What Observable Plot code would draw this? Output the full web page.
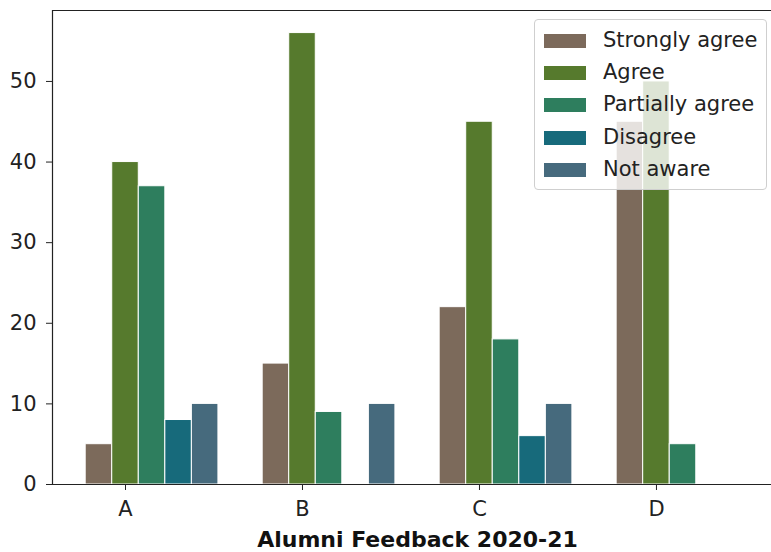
<!DOCTYPE html>
<html>
<head>
<meta charset="utf-8">
<script src="https://cdn.jsdelivr.net/npm/d3@7"></script>
<script src="https://cdn.jsdelivr.net/npm/@observablehq/plot@0.6"></script>
<style>
  html, body { margin: 0; padding: 0; background: white; }
  #wrap { position: relative; width: 771px; height: 552px; font-family: "DejaVu Sans", sans-serif; }
  #legend { position: absolute; left: 534px; top: 19px; width: 233px; height: 171px;
    background: rgba(255,255,255,0.8); border: 1px solid #cfcfcf; border-radius: 4px; box-sizing: border-box; }
  .sw { position: absolute; left: 9px; width: 42px; height: 14px; }
  .lab { position: absolute; left: 68px; font-size: 21px; color: #222; white-space: nowrap; line-height: 20px; }
</style>
</head>
<body>
<div id="wrap"></div>
<script>
const categories = ["A", "B", "C", "D"];
const seriesNames = ["Strongly agree", "Agree", "Partially agree", "Disagree", "Not aware"];
const stronglyAgree = [5, 15, 22, 45];
const agree = [40, 56, 45, 50];
const partiallyAgree = [37, 9, 18, 5];
const disagree = [8, 0, 6, 0];
const notAware = [10, 10, 10, 0];
const colors = ["#7c6a5b", "#567a2d", "#2e7e5e", "#176a7b", "#466a7d"];
const yTicks = [0, 10, 20, 30, 40, 50];
const xLabel = "Alumni Feedback 2020-21";

const seriesValues = [stronglyAgree, agree, partiallyAgree, disagree, notAware];
const barW = 0.15;
const rows = [];
seriesValues.forEach((vals, si) => {
  vals.forEach((v, gi) => {
    if (v > 0) {
      const c = gi + si * barW;
      rows.push({cat: categories[gi], series: seriesNames[si], value: v, x1: c - barW / 2, x2: c + barW / 2});
    }
  });
});
const xMin = -0.2625, xMaxFull = 3.8625;
const tickPos = categories.map((c, i) => i + barW);
const yMax = 58.8;

const chart = Plot.plot({
  width: 771, height: 552,
  marginLeft: 52, marginRight: 0, marginTop: 10, marginBottom: 68,
  style: {fontFamily: "DejaVu Sans, sans-serif", fontSize: "21px", color: "#222", background: "white"},
  x: {type: "linear", domain: [xMin, 3.80]},
  y: {domain: [0, yMax]},
  color: {domain: seriesNames, range: colors},
  marks: [
    Plot.rectY(rows, {x1: "x1", x2: "x2", y: "value", fill: "series", stroke: "white", strokeWidth: 1}),
    Plot.axisY({ticks: yTicks, tickSize: 6, tickPadding: 10, label: null, fontSize: 21, stroke: "#222"}),
    Plot.axisX({ticks: tickPos, tickFormat: d => categories[Math.round(d - barW)], tickSize: 6, tickPadding: 11, label: null, fontSize: 21, stroke: "#222"}),
    Plot.ruleY([0], {stroke: "#222", strokeWidth: 1.2}),
    Plot.ruleY([yMax], {stroke: "#222", strokeWidth: 1.2}),
    Plot.ruleX([xMin], {stroke: "#222", strokeWidth: 1.2}),
    Plot.text([xLabel], {x: [(xMin + xMaxFull) / 2], frameAnchor: "bottom", lineAnchor: "top", dy: 47,
      fontWeight: "bold", fontSize: 22, fill: "#111", text: d => d})
  ]
});
const wrap = document.getElementById("wrap");
wrap.appendChild(chart);

const legend = document.createElement("div");
legend.id = "legend";
const rowCenters = [21, 53, 85, 118, 150];
seriesNames.forEach((s, i) => {
  const sw = document.createElement("div");
  sw.className = "sw";
  sw.style.top = (rowCenters[i] - 7) + "px";
  sw.style.background = colors[i];
  legend.appendChild(sw);
  const lab = document.createElement("div");
  lab.className = "lab";
  lab.style.top = (rowCenters[i] - 11) + "px";
  lab.textContent = s;
  legend.appendChild(lab);
});
wrap.appendChild(legend);
</script>
</body>
</html>
